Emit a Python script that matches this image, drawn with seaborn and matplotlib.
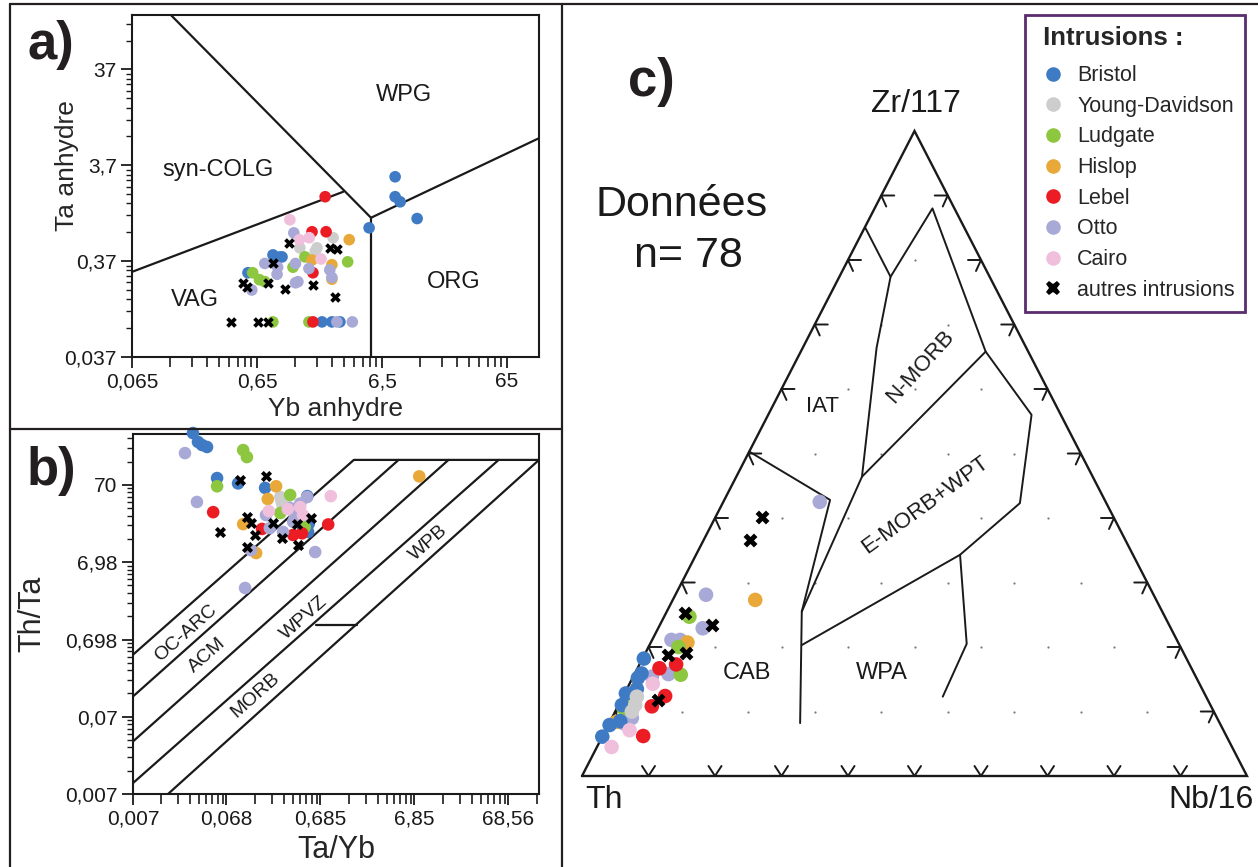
import numpy as np
import pandas as pd
import matplotlib
matplotlib.use("Agg")
import matplotlib.pyplot as plt
import seaborn as sns
from matplotlib.lines import Line2D
from matplotlib.ticker import FixedLocator, FixedFormatter, NullFormatter

sns.set_theme(style="ticks")
plt.rcParams["font.family"] = ["Liberation Sans", "DejaVu Sans"]

W, H = 1258, 867

# ---------------- data ----------------
intrusions = ["Bristol", "Young-Davidson", "Ludgate", "Hislop", "Lebel", "Otto", "Cairo", "autres intrusions"]
colors = ["#3f7bc4", "#cdcdcd", "#8dc63f", "#e9a93a", "#ec1c24", "#a9a9d8", "#f0bfdc", "#000000"]
palette = dict(zip(intrusions, colors))

# Panel a : Yb vs Ta (anhydre)
a_group = (["Bristol"] * 12 + ["Young-Davidson"] * 4 + ["Ludgate"] * 8 + ["Hislop"] * 4 + ["Lebel"] * 5
           + ["Otto"] * 13 + ["Cairo"] * 4 + ["autres intrusions"] * 13)
a_yb = [8.27, 8.27, 9.07, 12.4, 5.12, 0.872, 0.994, 1.03, 0.55, 2.15, 2.58, 2.99,
        2.64, 1.43, 1.96, 1.9,
        1.57, 3.45, 1.26, 0.6, 0.68, 0.75, 0.87, 1.69,
        3.55, 1.79, 2.58, 2.58,
        2.28, 1.79, 2.32, 1.82, 1.82,
        1.28, 0.75, 1.32, 0.95, 1.69, 2.48, 2.58, 0.94, 1.32, 1.38, 0.59, 2.83, 3.76,
        1.19, 1.42, 1.7, 2.11,
        1.17, 2.51, 2.83, 0.87, 0.79, 0.5, 0.54, 1.09, 1.82, 2.73, 0.403, 0.66, 0.79]
a_ta = [2.81, 1.74, 1.54, 1.03, 0.824, 0.43, 0.41, 0.41, 0.28, 0.086, 0.086, 0.086,
        0.65, 0.509, 0.51, 0.47,
        0.41, 0.364, 0.32, 0.28, 0.237, 0.226, 0.086, 0.086,
        0.62, 0.38, 0.34, 0.24,
        1.74, 0.75, 0.75, 0.28, 0.086,
        0.73, 0.35, 0.35, 0.32, 0.31, 0.3, 0.25, 0.27, 0.22, 0.226, 0.185, 0.086, 0.086,
        1.0, 0.62, 0.65, 0.39,
        0.574, 0.51, 0.49, 0.35, 0.22, 0.22, 0.2, 0.19, 0.21, 0.157, 0.086, 0.086, 0.086]

# Panel b : Ta/Yb vs Th/Ta
b_group = (["Bristol"] * 11 + ["Young-Davidson"] * 5 + ["Ludgate"] * 7 + ["Hislop"] * 5 + ["Lebel"] * 5
           + ["Otto"] * 13 + ["Cairo"] * 5 + ["autres intrusions"] * 12)
b_tayb = [0.0304, 0.0344, 0.038, 0.0429, 0.0549, 0.0918, 0.178, 0.51, 0.50, 0.45, 0.52,
          0.258, 0.265, 0.27, 0.29, 0.30,
          0.104, 0.114, 0.0549, 0.329, 0.258, 0.47, 0.36,
          0.104, 0.143, 0.233, 0.19, 7.77,
          0.0499, 0.165, 0.354, 0.44, 0.835,
          0.025, 0.0335, 0.126, 0.109, 0.182, 0.498, 0.354, 0.2, 0.276, 0.607, 0.33, 0.42, 0.37,
          0.195, 0.42, 0.45, 0.89, 0.31,
          0.0966, 0.182, 0.0589, 0.114, 0.126, 0.14, 0.114, 0.216, 0.27, 0.39, 0.55, 0.40]
b_thta = [327, 251, 229, 216, 85.6, 73, 63.8, 17.2, 50, 20, 22,
          48.6, 44, 40, 42, 36,
          197, 160, 67, 51.7, 30.2, 19.9, 24,
          21.7, 9.17, 67, 45.8, 90,
          31, 18.8, 15.7, 16.5, 21.5,
          180, 42, 10, 3.24, 28.4, 48.6, 23.2, 19.3, 17.2, 9.45, 35, 40, 27,
          32, 36, 28.4, 50, 34,
          80, 90, 17.2, 26.7, 22.4, 15.7, 10.9, 22.4, 14.3, 21.5, 26, 11.6]

# Panel c : ternary Th - Nb/16 - Zr/117 (percent)
c_group = (["Otto"] * 10 + ["autres intrusions"] * 7 + ["Hislop"] * 3 + ["Ludgate"] * 5 + ["Lebel"] * 5
           + ["Bristol"] * 9 + ["Cairo"] * 3 + ["Young-Davidson"] * 3)
c_th = [43.0, 67.3, 70.4, 76.0, 74.7, 79.1, 81.8, 89.7, 86.0, 88.0,
        52.9, 56.4, 71.9, 68.8, 77.6, 74.8, 82.6,
        60.3, 73.8, 90.6,
        71.5, 75.5, 77.3, 88.5, 87.0,
        77.2, 80.0, 81.3, 84.1, 87.7,
        81.6, 83.1, 87.0, 91.9, 93.9, 85.0, 88.5, 90.0, 84.0,
        82.2, 89.3, 93.3,
        85.6, 86.5, 87.5]
c_nb = [14.5, 4.6, 6.7, 2.9, 4.2, 5.1, 2.8, 2.1, 2.0, 3.0,
        6.9, 7.0, 2.9, 7.8, 3.6, 6.2, 5.6,
        12.4, 5.5, 1.0,
        3.8, 4.5, 7.0, 1.0, 1.0,
        5.5, 3.3, 6.3, 5.1, 6.1,
        0.2, 1.0, 0.2, 0.2, 0.0, 1.5, 0.5, 1.5, 0.8,
        3.5, 3.6, 2.2,
        2.1, 2.5, 2.5]
c_zr = [42.5, 28.1, 22.9, 21.1, 21.1, 15.8, 15.4, 8.2, 12.0, 9.0,
        40.2, 36.6, 25.2, 23.4, 18.8, 19.0, 11.8,
        27.3, 20.7, 8.4,
        24.7, 20.0, 15.7, 10.5, 12.0,
        17.3, 16.7, 12.4, 10.8, 6.2,
        18.2, 15.9, 12.8, 7.9, 6.1, 13.5, 11.0, 8.5, 15.2,
        14.3, 7.1, 4.5,
        12.3, 11.0, 10.0]

# Panel a field boundaries (Yb, Ta)
a_lines = [
    ([0.133, 5.3], [137, 1.05]),
    ([0.065, 3.18], [0.286, 1.96]),
    ([5.3, 117], [1.05, 7.1]),
    ([5.3, 5.3], [1.05, 0.037]),
]
# Panel b field boundaries (Ta/Yb, Th/Ta)
b_lines = [
    ([0.007, 1.565, 146], [0.444, 147, 147]),
    ([0.007, 4.68], [0.128, 147]),
    ([0.007, 15.9], [0.0335, 147]),
    ([0.007, 54.3], [0.0097, 147]),
    ([0.0165, 146], [0.007, 147]),
    ([0.62, 1.71], [1.08, 1.08]),
]
# Panel c field boundaries, (Th, Nb, Zr) percent
c_lines = [
    [(14.9, 0, 85.1), (14.9, 7.7, 77.4), (22.5, 11.1, 66.4), (32.2, 17.3, 50.5),
     (34.7, 18.9, 46.4), (54.2, 20.3, 25.5), (63.1, 28.7, 8.2)],
    [(14.9, 7.7, 77.4), (3.3, 8.7, 88.0), (6.4, 27.8, 65.8), (4.4, 39.6, 56.0),
     (13.0, 44.7, 42.3), (26.0, 39.7, 34.3), (56.8, 22.9, 20.3)],
    [(6.4, 27.8, 65.8), (34.7, 18.9, 46.4)],
    [(49.7, 0, 50.3), (41.3, 15.9, 42.8), (54.2, 20.3, 25.5)],
    [(26.0, 39.7, 34.3), (31.9, 47.6, 20.5), (39.6, 48.1, 12.3)],
]

# ---------------- helpers ----------------
def rect(l, t, r, b):
    return [l / W, 1 - b / H, (r - l) / W, (b - t) / H]


def ftext(x, y, s, **kw):
    fig.text(x / W, 1 - y / H, s, ha=kw.pop("ha", "center"), va=kw.pop("va", "center"), **kw)


def log_axis(axis, majors, labels, base, lim):
    minors = [m * base * 10 ** k for k in range(-1, 6) for m in range(2, 10)]
    minors = [v for v in minors if lim[0] < v < lim[1]]
    axis.set_major_locator(FixedLocator(majors))
    axis.set_major_formatter(FixedFormatter(labels))
    axis.set_minor_locator(FixedLocator(minors))
    axis.set_minor_formatter(NullFormatter())


def tern(th, nb, zr):
    th, nb, zr = np.asarray(th, float), np.asarray(nb, float), np.asarray(zr, float)
    s = th + nb + zr
    return (nb + zr / 2) / s, zr / s


def scatter(ax, df, x, y, s_dot, s_x):
    dots = df[df["intrusion"] != "autres intrusions"]
    crosses = df[df["intrusion"] == "autres intrusions"]
    sns.scatterplot(data=dots, x=x, y=y, hue="intrusion", palette=palette, s=s_dot,
                    linewidth=0, ax=ax, legend=False, clip_on=False, zorder=3)
    sns.scatterplot(data=crosses, x=x, y=y, color="black", marker="X", s=s_x,
                    linewidth=0, ax=ax, legend=False, clip_on=False, zorder=4)


LC = "#1a1a1a"
fig = plt.figure(figsize=(W / 100, H / 100), dpi=100)
fig.patch.set_facecolor("white")

# ---------------- panel a ----------------
ax_a = fig.add_axes(rect(132, 15, 539, 357))
ax_a.set_xscale("log")
ax_a.set_yscale("log")
df_a = pd.DataFrame({"Yb": a_yb, "Ta": a_ta, "intrusion": a_group})
scatter(ax_a, df_a, "Yb", "Ta", 70, 58)
for xs, ys in a_lines:
    ax_a.plot(xs, ys, color=LC, lw=1.6, zorder=2)
ax_a.set_xlim(0.065, 117)
ax_a.set_ylim(0.037, 137)
log_axis(ax_a.xaxis, [0.065, 0.65, 6.5, 65], ["0,065", "0,65", "6,5", "65"], 0.065, (0.065, 117))
log_axis(ax_a.yaxis, [0.037, 0.37, 3.7, 37], ["0,037", "0,37", "3,7", "37"], 0.037, (0.037, 137))
ax_a.set_xlabel("Yb anhydre", fontsize=19, labelpad=4)
ax_a.set_ylabel("Ta anhydre", fontsize=19)
ax_a.yaxis.set_label_coords(-0.13, 0.56)

# ---------------- panel b ----------------
ax_b = fig.add_axes(rect(133, 434, 539, 794))
ax_b.set_xscale("log")
ax_b.set_yscale("log")
df_b = pd.DataFrame({"TaYb": b_tayb, "ThTa": b_thta, "intrusion": b_group})
scatter(ax_b, df_b, "TaYb", "ThTa", 82, 64)
for xs, ys in b_lines:
    ax_b.plot(xs, ys, color=LC, lw=1.6, zorder=2)
ax_b.set_xlim(0.007, 146)
ax_b.set_ylim(0.007, 318)
log_axis(ax_b.xaxis, [0.007, 0.068, 0.685, 6.85, 68.56], ["0,007", "0,068", "0,685", "6,85", "68,56"], 0.007, (0.007, 146))
log_axis(ax_b.yaxis, [0.007, 0.07, 0.698, 6.98, 70], ["0,007", "0,07", "0,698", "6,98", "70"], 0.007, (0.007, 318))
ax_b.set_xlabel("Ta/Yb", fontsize=22, labelpad=5)
ax_b.set_ylabel("Th/Ta", fontsize=22)
ax_b.yaxis.set_label_coords(-0.212, 0.5)

for ax in (ax_a, ax_b):
    for sp in ax.spines.values():
        sp.set_visible(True)
        sp.set_color(LC)
        sp.set_linewidth(1.5)
    ax.tick_params(axis="both", which="major", direction="out", length=8, width=1.3,
                   labelsize=15, colors=LC, pad=3)
    ax.tick_params(axis="y", which="minor", direction="out", length=4.5, width=1.0, colors=LC)
    ax.tick_params(axis="x", which="minor", direction="out", length=7, width=1.2, colors=LC)
    ax.tick_params(top=False, right=False, which="both")
    ax.set_facecolor("white")

# region labels panel a
for s, x, y in [("WPG", 404, 95), ("syn-COLG", 218, 170), ("VAG", 195, 300), ("ORG", 454, 282)]:
    ftext(x, y, s, fontsize=17, color=LC)
# region labels panel b
for s, x, y in [("OC-ARC", 186, 633), ("ACM", 207, 655), ("WPVZ", 304, 618),
                ("MORB", 255, 695), ("WPB", 429, 543)]:
    ftext(x, y, s, fontsize=14, color=LC, rotation=41.5, rotation_mode="anchor")

ftext(51, 45, "a)", fontsize=38, fontweight="bold", color="#231f20")
ftext(51, 471, "b)", fontsize=38, fontweight="bold", color="#231f20")

# ---------------- panel c (ternary) ----------------
ax_c = fig.add_axes(rect(582, 131, 1247, 776))
ax_c.set_xlim(0, 1)
ax_c.set_ylim(0, 1)
ax_c.axis("off")

pxu, pxv = 1 / 665, 1 / 645
gu, gv = [], []
for i in range(1, 10):
    for j in range(1, 10):
        if i + j <= 9:
            u, v = tern(100 - 10 * (i + j), 10 * j, 10 * i)
            gu.append(float(u)); gv.append(float(v))
ax_c.scatter(gu, gv, s=2.5, color="#777777", linewidths=0, zorder=1)

ax_c.plot([0, 1, 0.5, 0], [0, 0, 1, 0], color=LC, lw=1.7, zorder=2, clip_on=False, solid_joinstyle="miter")
for k in range(1, 10):
    f = k / 10
    ax_c.plot([f - 6.5 * pxu, f, f + 6.5 * pxu], [10 * pxv, 0, 10 * pxv], color=LC, lw=1.4, zorder=2)
    u0, v0 = f / 2, f
    ax_c.plot([u0 + 13 * pxu, u0, u0 + 5 * pxu], [v0, v0, v0 - 11 * pxv], color=LC, lw=1.4, zorder=2)
    u1, v1 = 1 - f / 2, f
    ax_c.plot([u1 - 13 * pxu, u1, u1 - 5 * pxu], [v1, v1, v1 - 11 * pxv], color=LC, lw=1.4, zorder=2)

for poly in c_lines:
    th, nb, zr = zip(*poly)
    u, v = tern(th, nb, zr)
    ax_c.plot(u, v, color=LC, lw=1.4, zorder=2)

cu, cv = tern(c_th, c_nb, c_zr)
df_c = pd.DataFrame({"u": cu, "v": cv, "intrusion": c_group})
scatter(ax_c, df_c, "u", "v", 110, 100)
ax_c.set_xlim(0, 1)
ax_c.set_ylim(0, 1)
ax_c.axis("off")

for s, x, y, rot, fs in [("IAT", 823, 407, 0, 16), ("N-MORB", 920, 367, 48, 16),
                         ("E-MORB+WPT", 925, 505, 36, 16), ("CAB", 747, 673, 0, 17),
                         ("WPA", 882, 673, 0, 17)]:
    ftext(x, y, s, fontsize=fs, rotation=rot, rotation_mode="anchor", color=LC)

ftext(916, 104, "Zr/117", fontsize=23, color=LC)
ftext(604, 800, "Th", fontsize=23, color=LC)
ftext(1211, 800, "Nb/16", fontsize=23, color=LC)
ftext(682, 205, "Données", fontsize=31, color=LC)
ftext(688, 256, "n= 78", fontsize=31, color=LC)
ftext(651, 82, "c)", fontsize=38, fontweight="bold", color="#231f20")

# legend
handles = []
for name, col in zip(intrusions, colors):
    if name == "autres intrusions":
        handles.append(Line2D([], [], ls="", marker="X", color="black", markersize=10.5, markeredgewidth=0))
    else:
        handles.append(Line2D([], [], ls="", marker="o", color=col, markersize=10.5, markeredgewidth=0))
leg = fig.legend(handles, intrusions, loc="upper left", bbox_to_anchor=(1025 / W, 1 - 15 / H),
                 borderaxespad=0,
                 title=" Intrusions :", title_fontproperties={"size": 18.5, "weight": "bold"},
                 fontsize=15.5, frameon=True, fancybox=False, framealpha=1, labelspacing=0.45,
                 handletextpad=0.32, handlelength=1.6, borderpad=0.5, alignment="left")
leg._legend_box.sep = 11
leg.get_frame().set_edgecolor("#5b2c6f")
leg.get_frame().set_linewidth(2)

for (x1, y1, x2, y2) in [(10, 4, 1258, 4), (10, 4, 10, 867), (10, 429, 562, 429), (562, 4, 562, 867)]:
    fig.add_artist(Line2D([x1 / W, x2 / W], [1 - y1 / H, 1 - y2 / H], transform=fig.transFigure,
                          color="#231f20", lw=1.6))

fig.savefig("out.png", dpi=100, facecolor="white")
